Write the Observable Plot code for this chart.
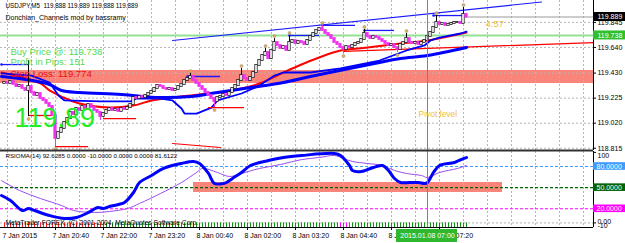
<!DOCTYPE html>
<html><head><meta charset="utf-8">
<script src="https://cdn.jsdelivr.net/npm/d3@7"></script>
<script src="https://cdn.jsdelivr.net/npm/@observablehq/plot@0.6"></script>
<style>
html,body{margin:0;padding:0;background:#fff;overflow:hidden}
#chart{position:relative;width:625px;height:243px;background:#fff}
#chart svg{position:absolute;left:0;display:block}
</style></head><body><div id="chart"></div>
<script>
// ---------- DATA (bar index = M5 bar, 0 = 7 Jan 19:15) ----------
const firstOpen = 119.345;
const closes = [119.353,119.345,119.361,119.337,119.320,119.328,119.304,119.288,119.320,119.271,
119.247,119.263,119.222,119.206,119.181,119.157,119.083,118.895,118.944,118.977,
119.026,119.058,119.108,119.091,119.140,119.124,119.157,119.132,119.173,119.148,
119.124,119.108,119.075,119.099,119.124,119.140,119.124,119.132,119.116,119.140,
119.132,119.148,119.173,119.230,119.222,119.238,119.230,119.247,119.263,119.279,
119.304,119.328,119.320,119.304,119.296,119.304,119.288,119.296,119.320,119.337,
119.369,119.386,119.402,119.369,119.345,119.320,119.296,119.271,119.247,119.222,
119.198,119.230,119.238,119.255,119.247,119.271,119.304,119.328,119.369,119.410,
119.386,119.369,119.394,119.435,119.492,119.533,119.574,119.599,119.549,119.615,
119.680,119.656,119.631,119.648,119.615,119.680,119.697,119.672,119.689,119.680,
119.664,119.697,119.730,119.754,119.779,119.795,119.779,119.754,119.738,119.713,
119.680,119.664,119.639,119.623,119.648,119.639,119.656,119.672,119.680,119.705,
119.754,119.730,119.713,119.730,119.721,119.705,119.689,119.672,119.656,119.664,
119.639,119.623,119.664,119.680,119.713,119.680,119.672,119.680,119.664,119.680,
119.697,119.730,119.762,119.803,119.844,119.828,119.836,119.820,119.828,119.836,
119.844,119.844,119.836,119.910,119.889];
const spikeHighBars = [8,62,79,87,90,95,106,120,134,144,153];
const spikeHighs = [119.533,119.427,119.468,119.631,119.713,119.738,119.820,119.787,119.754,119.901,119.967];
const spikeLowBars = [8,17,32,70,113,131];
const spikeLows = [119.075,118.829,119.042,119.148,119.590,119.599];
const upFractalBars = [62,79,87,90,95,106,120,134,144,153];
const downFractalBars = [8,17,70,113,131];

const redMABars = [-1,5,12,15,19,25,35,43,49,56,65,76,85,93,99,104,112,121,132,141,154];
const redMAVals = [119.435,119.402,119.345,119.288,119.238,119.181,119.148,119.165,119.206,119.230,119.255,119.288,119.345,119.435,119.500,119.549,119.615,119.639,119.672,119.697,119.762];
const blueMABars = [-1,7,15,19,25,39,52,62,71,82,93,102,115,125,132,141,154];
const blueMAVals = [119.402,119.378,119.337,119.288,119.271,119.255,119.230,119.238,119.271,119.312,119.353,119.402,119.468,119.517,119.549,119.574,119.639];
const midBars = [-1,9,15,18,20,32,42,44,52,56,59,60,64,69,71,79,85,90,93,102,112,125,134,140,142,145,152,154];
const midVals = [119.427,119.410,119.353,119.247,119.206,119.198,119.198,119.222,119.222,119.206,119.140,119.099,119.099,119.148,119.206,119.263,119.328,119.410,119.435,119.435,119.468,119.533,119.615,119.656,119.697,119.721,119.754,119.770];
const upSegStart = [-1,61,95,106,120,143];
const upSegEnd = [8,72,105,117,130,153];
const upSegLevel = [119.500,119.402,119.738,119.820,119.779,119.901];
const loSegStart = [8,17,33,68];
const loSegEnd = [16,28,44,80];
const loSegLevel = [119.083,118.829,119.058,119.148];
const redDiagBars = [56,72];
const redDiagVals = [118.854,118.821];
const blueTrendBars = [56,179];
const blueTrendVals = [119.697,120.012];
const redTrendBars = [113,196.3];
const redTrendVals = [119.607,119.680];

const buyPrice = 119.738;
const bidPrice = 119.889;
const stopLow = 119.345, stopHigh = 119.451;
const priceTicks = [119.845,119.640,119.430,119.225,119.020,118.815];
const markerBar = 141;

const rsiBars = [-1,2,6,8,10,15,20,24,28,31,33,35,38,40,43,45,49,53,59,63,65,68,70,73,74,76,79,82,88,93,99,110,112,115,116,119,122,126,128,130,132,135,138,140,141,143,145,150,153,154];
const rsiVals = [38.9,31.8,17.6,20.4,17.6,10.5,6.2,7.7,14.8,21.8,20.4,23.3,26.1,28.9,43.1,57.3,67.2,77.2,84.3,87.1,84.3,70.1,55.9,55.9,57.3,63.0,71.5,81.4,88.5,92.8,95.6,98.4,95.6,81.4,74.3,72.9,77.2,81.4,74.3,63.0,57.3,57.3,57.3,55.9,57.3,71.5,81.4,85.7,91.3,92.6];
const sigBars = [-1,5,12,19,23,30,35,41,45,52,59,64,66,71,75,79,85,92,99,105,110,113,116,121,126,130,134,139,141,145,151,154];
const sigVals = [60.0,46.0,34.6,24.7,17.6,14.8,16.2,20.4,27.5,41.7,57.3,71.5,77.2,71.5,65.8,70.1,77.2,82.8,89.8,92.8,95.6,91.3,87.1,84.3,81.4,74.3,70.1,67.2,64.4,71.5,77.2,81.6];
const histRuns = [["#ff2020",0,32],["#109010",33,111],["#ff00ff",112,115],["#109010",116,154]];
const rsiZone = {from:63, to:166, low:43.1, high:57.3};
const rsiLevels = [80,50,20];
const rsiLevelColors = ["#3d9bff","#006400","#ff00ff"];

const timeBars = [0.33,17,33,49,65,81,97,113,129,145];
const timeLabels = ["7 Jan 2015","7 Jan 20:40","7 Jan 22:00","7 Jan 23:20","8 Jan 00:40","8 Jan 02:00","8 Jan 03:20","8 Jan 04:40","8 Jan 06:00","8 Jan 07:20"];

// ---------- BUILD ----------
const FONT = "Liberation Sans, Arial, sans-serif";
const xDomain = [-4/3, 589/3];
const xMax = xDomain[1];
const gridBars = d3.range(1, 197, 8);

const candles = closes.map((c,i)=>{const o = i===0?firstOpen:closes[i-1];return {i,open:o,close:c,up:c>=o,lo:Math.min(o,c),hi:Math.max(o,c)};});
const wicks = spikeHighBars.map((b,k)=>({i:b,y1:candles[b].hi,y2:spikeHighs[k],up:candles[b].up}))
  .concat(spikeLowBars.map((b,k)=>({i:b,y1:spikeLows[k],y2:candles[b].lo,up:candles[b].up})));
const hiOf = b => { const k = spikeHighBars.indexOf(b); return k>=0 ? spikeHighs[k] : candles[b].hi; };
const loOf = b => { const k = spikeLowBars.indexOf(b); return k>=0 ? spikeLows[k] : candles[b].lo; };
const zip = (xs, ys) => xs.map((x,k)=>({x, y: ys[k]}));
const upSegs = upSegStart.map((s,k)=>({x1:s,x2:upSegEnd[k],y:upSegLevel[k]}));
const loSegs = loSegStart.map((s,k)=>({x1:s,x2:loSegEnd[k],y:loSegLevel[k]}));
const BEAR = "#ee33ee";

const txt = (s, o) => Plot.text([s], Object.assign({text:d=>d, frameAnchor:"top-left", lineAnchor:"middle", textAnchor:"start", fontFamily:FONT, fontSize:7, fill:"#000"}, o));

const mainY = [120.0241 - 0.0081833*150, 120.0241];
const main = Plot.plot({
  width: 625, height: 150, marginTop: 0, marginBottom: 0, marginLeft: 0, marginRight: 32,
  x: {domain: xDomain, axis: null},
  y: {domain: mainY, axis: null},
  style: {background: "transparent", overflow: "visible"},
  marks: [
    Plot.rect([0], {x1: ()=>xDomain[0], x2: ()=>xMax, y1: ()=>stopLow, y2: ()=>stopHigh, fill: "#f98479"}),
    Plot.ruleY(priceTicks, {stroke: "#b5b5b5", strokeDasharray: "2,2"}),
    Plot.ruleX(gridBars, {stroke: "#b5b5b5", strokeDasharray: "2,2"}),
    Plot.ruleY([buyPrice], {stroke: "#93e293", strokeWidth: 2}),
    Plot.ruleY([bidPrice], {x1: ()=>153, x2: ()=>xMax, stroke: "#9a9a9a"}),
    Plot.line(zip(redTrendBars, redTrendVals), {x:"x", y:"y", stroke:"#ff0000", strokeWidth:1.2}),
    Plot.line(zip(blueTrendBars, blueTrendVals), {x:"x", y:"y", stroke:"#1a1aff", strokeWidth:1.2}),
    Plot.line(zip(redDiagBars, redDiagVals), {x:"x", y:"y", stroke:"#ff0000", strokeWidth:1.2}),
    Plot.line(zip(redMABars, redMAVals), {x:"x", y:"y", stroke:"#ff0000", strokeWidth:2, curve:"catmull-rom"}),
    Plot.line(zip(midBars, midVals), {x:"x", y:"y", stroke:"#0000ff", strokeWidth:1.8}),
    Plot.line(zip(blueMABars, blueMAVals), {x:"x", y:"y", stroke:"#0000ff", strokeWidth:3, curve:"catmull-rom"}),
    Plot.ruleY(upSegs, {x1:"x1", x2:"x2", y:"y", stroke:"#1a1aff", strokeWidth:1.3}),
    Plot.ruleY(loSegs, {x1:"x1", x2:"x2", y:"y", stroke:"#ff0000", strokeWidth:1.3}),
    Plot.dot(upSegs, {x:"x1", y:"y", r:1.3, fill:"#1a1aff"}),
    Plot.ruleX(wicks, {x:"i", y1:"y1", y2:"y2", stroke: d=>d.up?"#000":BEAR, strokeWidth:1}),
    Plot.rect(candles, {x1:"i", x2:"i", y1:"lo", y2:"hi", insetLeft:-1.2, insetRight:-1.2, insetTop:-0.6, insetBottom:-0.6,
      fill: d=>d.up?"#fff":BEAR, stroke: d=>d.up?"#000":BEAR, strokeWidth:0.7}),
    Plot.dot(upFractalBars, {x: d=>d, y: d=>hiOf(d), dy:-2.5, r:1.5, fill:"#f3ad48", stroke:"#888", strokeWidth:0.5}),
    Plot.dot(downFractalBars, {x: d=>d, y: d=>loOf(d), dy:2.5, r:1.5, fill:"#f3ad48", stroke:"#888", strokeWidth:0.5}),
    Plot.ruleX([markerBar], {stroke:"#22c322", strokeWidth:1}),
    txt("USDJPY,M5  119.888 119.889 119.888 119.889", {dx:5, dy:5, fontSize:6.3}),
    txt("Donchian_Channels mod by bassramy", {dx:5, dy:17.5}),
    txt("Buy Price @: 119.738", {dx:10, dy:51, fontSize:9.5, fill:"#55d855"}),
    txt("Profit in Pips: 151", {dx:10, dy:61.5, fontSize:9.5, fill:"#55d855"}),
    txt("Stop Loss: 119.774", {dx:10, dy:73.5, fontSize:9.5, fill:"#e81010"}),
    txt("119.89", {dx:14, dy:117.5, fontSize:27, fill:"#22ee22"}),
    txt("4.57", {dx:485, dy:23.5, fontSize:9.5, fill:"#f2c13a"}),
    txt("Pivot level", {dx:418, dy:113.5, fontSize:8.5, fill:"#f2c13a"}),
    Plot.ruleX([xMax], {stroke:"#000"}),
    Plot.ruleY(priceTicks, {x1: ()=>xMax, x2: ()=>xMax+1, stroke:"#000"}),
    Plot.text(priceTicks, {x: ()=>xMax, y: d=>d, text: d=>d.toFixed(3), dx:4, textAnchor:"start", lineAnchor:"middle", fontFamily:FONT, fontSize:7, fill:"#000"}),
    Plot.rect([buyPrice, bidPrice], {x1: ()=>xMax, x2: ()=>xMax, y1: d=>d, y2: d=>d, insetRight:-32, insetTop:-4.5, insetBottom:-4.5,
      fill: d=>d===bidPrice?"#000":"#2fbf2f"}),
    Plot.text([buyPrice, bidPrice], {x: ()=>xMax, y: d=>d, text: d=>d.toFixed(3), dx:4, textAnchor:"start", lineAnchor:"middle", fontFamily:FONT, fontSize:7, fill:"#fff"})
  ]
});
main.style.top = "0px";

const rsiMin = (222.4-227)/0.705, rsiMax = (222.4-151)/0.705;
const hist = [];
histRuns.forEach(([c,a,b])=>{ for (let i=a;i<=b;i++) hist.push({i,c}); });
const rtxt = (s, o) => Plot.text([s], Object.assign({text:d=>d, textAnchor:"start", lineAnchor:"middle", fontFamily:FONT, fontSize:7, fill:"#000"}, o));

const rsi = Plot.plot({
  width: 625, height: 94, marginTop: 2, marginBottom: 16, marginLeft: 0, marginRight: 32,
  x: {domain: xDomain, axis: null},
  y: {domain: [rsiMin, rsiMax], axis: null},
  style: {background: "transparent", overflow: "visible"},
  marks: [
    Plot.rect([rsiZone], {x1:"from", x2:"to", y1:"low", y2:"high", fill:"#f98479"}),
    Plot.ruleX(gridBars, {stroke: "#b5b5b5", strokeDasharray: "2,2"}),
    Plot.ruleY([0], {stroke: "#b5b5b5", strokeDasharray: "2,2"}),
    Plot.ruleY(rsiLevels, {stroke: (d,k)=>rsiLevelColors[k], strokeDasharray: "3,2", strokeWidth: 1.1}),
    Plot.ruleX(hist, {x:"i", y1: ()=>0, y2: ()=>rsiMin, stroke: d=>d.c, strokeWidth:1}),
    Plot.line(zip(sigBars, sigVals), {x:"x", y:"y", stroke:"#9a4cf0", strokeWidth:1, curve:"catmull-rom"}),
    Plot.line(zip(rsiBars, rsiVals), {x:"x", y:"y", stroke:"#0000ff", strokeWidth:3, curve:"catmull-rom"}),
    Plot.ruleX([markerBar], {stroke:"#22c322", strokeWidth:1}),
    rtxt("RSIOMA(14) 92.6285 0.0000 -10.0000 0.0000 0.0000 81.6122", {frameAnchor:"top-left", dx:5, dy:5, fontSize:6.2}),
    rtxt("MetaTrader FOREX, (C) 2001-2004, MetaQuotes Software Corp.", {frameAnchor:"bottom-left", dx:5, dy:-5, fontSize:6.7}),
    Plot.ruleY([rsiMax], {stroke:"#303030", strokeWidth:2, dy:-1}),
    Plot.ruleY([rsiMin], {stroke:"#000"}),
    Plot.ruleX([xMax], {y1: ()=>rsiMin, y2: ()=>rsiMax, stroke:"#000"}),
    Plot.ruleY([100, ...rsiLevels, 0], {x1: ()=>xMax, x2: ()=>xMax+1, stroke:"#000"}),
    Plot.rect(rsiLevels, {x1: ()=>xMax, x2: ()=>xMax, y1: d=>d, y2: d=>d, insetRight:-32, insetTop:-3.8, insetBottom:-3.8, fill:(d,k)=>rsiLevelColors[k]}),
    Plot.text(rsiLevels, {x: ()=>xMax, y: d=>d, text: d=>d.toFixed(4), dx:3, textAnchor:"start", lineAnchor:"middle", fontFamily:FONT, fontSize:7, fill:"#fff"}),
    Plot.text([100], {x: ()=>xMax, y: d=>d, text: ()=>"100", dx:4, dy:3.5, textAnchor:"start", lineAnchor:"middle", fontFamily:FONT, fontSize:7, fill:"#000"}),
    Plot.text([0], {x: ()=>xMax, y: d=>d, text: ()=>"0.00", dx:4, dy:-1.5, textAnchor:"start", lineAnchor:"middle", fontFamily:FONT, fontSize:7, fill:"#000"}),
    Plot.text([-10], {x: ()=>xMax, y: ()=>rsiMin, text: ()=>"-10", dx:4, dy:-1.5, textAnchor:"start", lineAnchor:"middle", fontFamily:FONT, fontSize:7, fill:"#000"}),
    Plot.ruleX(timeBars.slice(1), {y1: ()=>rsiMin, y2: ()=>rsiMin, insetBottom:-3, stroke:"#000"}),
    Plot.text(timeBars, {x: d=>d, frameAnchor:"bottom", text: (d,k)=>timeLabels[k], dx:-3, dy:8.5, textAnchor:"start", lineAnchor:"middle", fontFamily:FONT, fontSize:7, fill:"#000"}),
    Plot.rect([markerBar], {x1: d=>d, x2: d=>d, y1: ()=>rsiMin, y2: ()=>rsiMin, insetLeft:-31, insetRight:-30, insetTop:2, insetBottom:-15, fill:"#2fb82f"}),
    Plot.text([markerBar], {x: d=>d, frameAnchor:"bottom", text: ()=>"2015.01.08 07:00", dy:8.5, lineAnchor:"middle", fontFamily:FONT, fontSize:7, fill:"#fff"})
  ]
});
rsi.style.top = "149px";

const root = document.getElementById("chart");
root.appendChild(main);
root.appendChild(rsi);
</script></body></html>
